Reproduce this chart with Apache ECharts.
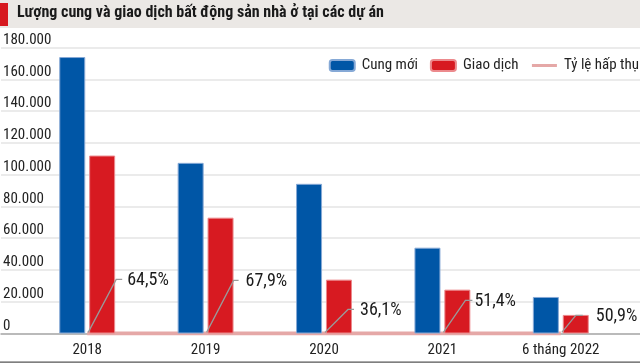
<!DOCTYPE html>
<html>
<head>
<meta charset="utf-8">
<script src="https://cdn.jsdelivr.net/npm/echarts@6/dist/echarts.min.js"></script>
<style>html,body{margin:0;padding:0;background:#fff}#c{width:640px;height:364px}</style>
</head>
<body>
<div id="c"></div>
<script>
const categories = ['2018', '2019', '2020', '2021', '6 tháng 2022'];
const supplyValues = [174000, 107400, 94200, 54000, 23000];
const salesValues = [112000, 72900, 33900, 27600, 11700];
const absorptionRates = [64.5, 67.9, 36.1, 51.4, 50.9];
const yMin = 0, yMax = 180000, yStep = 20000;
const seriesNames = ['Cung mới', 'Giao dịch', 'Tỷ lệ hấp thụ'];
const titleText = 'Lượng cung và giao dịch bất động sản nhà ở tại các dự án';

const FONT = '"Liberation Sans Narrow", "Arial Narrow", "Roboto Condensed", sans-serif';
// leader line layout: [elbow dx, elbow dy, end dx, text dx]
const LEADER = [[28, -53, 34, 39], [27, -52, 32, 39], [23, -23, 29, 35], [22, -32, 29, 31], [14, -17, 21, 34]];
const dots = v => String(v).replace(/\B(?=(\d{3})+(?!\d))/g, '.');
const pct = r => String(r).replace('.', ',') + '%';

const chart = echarts.init(document.getElementById('c'), null, {renderer: 'canvas'});
const gridTop = 47.5, gridBottom = 30.5;
chart.setOption({
  animation: false,
  textStyle: {fontFamily: FONT},
  title: {
    text: titleText, left: 17, top: 5, padding: 0,
    textStyle: {fontFamily: FONT, fontWeight: 'bold', fontSize: 16, color: '#1a1a1a'}
  },
  graphic: [
    {type: 'rect', left: 0, top: 0, z: -10, shape: {width: 640, height: 28}, style: {fill: '#ebe8e5'}},
    {type: 'rect', left: 0, top: 3, z: -9, shape: {width: 8, height: 23}, style: {fill: '#d7191f'}},
    {type: 'rect', left: 0, top: 361.5, z: -9, shape: {width: 640, height: 1.2}, style: {fill: '#555'}}
  ],
  legend: {
    right: 1, top: 58, padding: 0, itemWidth: 25, itemHeight: 11, itemGap: 12,
    data: [
      {name: seriesNames[0]},
      {name: seriesNames[1]},
      {name: seriesNames[2], itemStyle: {color: 'transparent', borderWidth: 0, opacity: 0}, lineStyle: {width: 3, color: '#e5a8a7'}}
    ],
    textStyle: {fontFamily: FONT, fontSize: 15, color: '#222', padding: [0, 0, 0, 2]}
  },
  grid: [
    {left: 0, right: 0, top: gridTop, bottom: gridBottom},
    {left: 28, width: 592, top: gridTop, bottom: gridBottom}
  ],
  xAxis: [
    {gridIndex: 0, type: 'value', min: 0, max: 1, axisLabel: {show: false}, splitLine: {show: false}, axisTick: {show: false},
     axisLine: {show: true, onZero: false, lineStyle: {color: '#aaa', width: 1.5}}},
    {gridIndex: 1, type: 'category', data: categories, axisLine: {show: false}, axisTick: {show: false},
     axisLabel: {margin: 9, fontFamily: FONT, fontSize: 15, color: '#222'}}
  ],
  yAxis: [
    {gridIndex: 0, type: 'value', min: yMin, max: yMax, interval: yStep, axisLine: {show: false}, axisTick: {show: false},
     splitLine: {lineStyle: {color: '#e4e4e4', width: 1.5}},
     axisLabel: {inside: true, margin: 2, verticalAlign: 'bottom', fontFamily: FONT, fontSize: 15, color: '#222', formatter: dots}},
    {gridIndex: 1, type: 'value', min: yMin, max: yMax, interval: yStep, show: false}
  ],
  series: [
    {name: seriesNames[2], type: 'line', xAxisIndex: 1, yAxisIndex: 1, data: absorptionRates, symbol: 'none', z: 1,
     color: '#e5a8a7', lineStyle: {color: '#e5a8a7', width: 4}},
    {name: seriesNames[0], type: 'bar', xAxisIndex: 1, yAxisIndex: 1, data: supplyValues, barWidth: 26, barGap: '15%', z: 2,
     color: '#0056a6', itemStyle: {color: '#0056a6', borderColor: '#86a9d6', borderWidth: 1}},
    {name: seriesNames[1], type: 'bar', xAxisIndex: 1, yAxisIndex: 1, data: salesValues, barWidth: 26, z: 2,
     color: '#d71a21', itemStyle: {color: '#d71a21', borderColor: '#ec8a8d', borderWidth: 1}},
    {type: 'custom', xAxisIndex: 1, yAxisIndex: 1, z: 5, silent: true,
     data: absorptionRates.map((r, i) => [i, r]),
     renderItem: function (params, api) {
       const p = api.coord([api.value(0), api.value(1)]);
       const o = LEADER[params.dataIndex];
       const sx = p[0] + 1, sy = p[1] - 1;
       return {type: 'group', children: [
         {type: 'polyline', shape: {points: [[sx, sy], [sx + o[0], sy + o[1]], [sx + o[2], sy + o[1]]]},
          style: {stroke: '#9a9a9a', lineWidth: 1.3, fill: null}},
         {type: 'text', x: sx + o[3], y: sy + o[1] + 1,
          style: {text: pct(api.value(1)), font: '18px ' + FONT, fill: '#1a1a1a', verticalAlign: 'middle', align: 'left'}}
       ]};
     }}
  ]
});
</script>
</body>
</html>
